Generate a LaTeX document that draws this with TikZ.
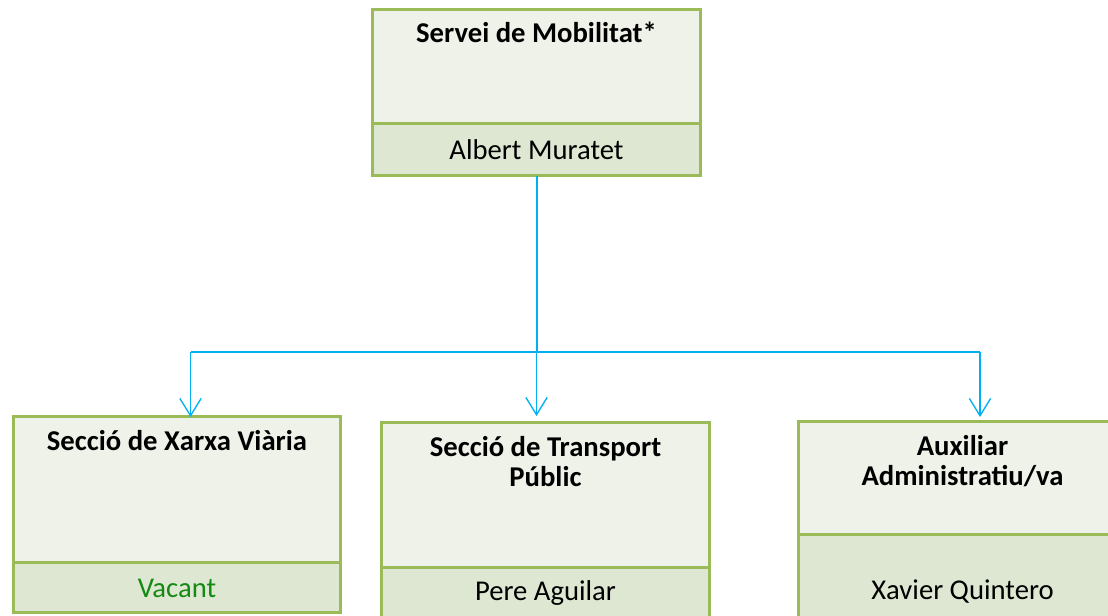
\documentclass[tikz,border=0pt]{standalone}
\usepackage{fontspec}
\setmainfont{Carlito}
\usetikzlibrary{arrows.meta, positioning}
\definecolor{orgborder}{HTML}{9BBB59}
\definecolor{orghead}{HTML}{EFF2E9}
\definecolor{orgband}{HTML}{DEE7D1}
\definecolor{orgline}{HTML}{00B0F0}
\definecolor{orgvacant}{HTML}{138A13}

\begin{document}
\begin{tikzpicture}[x=0.75pt, y=-0.75pt,
  head/.style={rectangle, draw=orgborder, fill=orghead, line width=2.25pt, minimum width=245.5pt, outer sep=0pt, anchor=north},
  band/.style={rectangle, draw=orgborder, fill=orgband, line width=2.25pt, minimum width=245.5pt, outer sep=0pt, inner sep=0pt, font=\fontsize{21.5}{25}\selectfont},
  title/.style={anchor=base, align=center, inner sep=0pt, font=\bfseries\fontsize{21.5}{22.5}\selectfont},
  link/.style={orgline, line width=1.5pt},
  drop/.style={orgline, line width=1pt, -{Straight Barb[length=13pt, width=16pt]}},
]
\clip (0,0) rectangle (1108,616);
\node[head, minimum height=85.5pt] (bossHead) at (536.5,10) {};
\node[band, minimum height=39pt, below=0pt of bossHead] (bossName) {Albert Muratet};
\node[title] (bossTitle) at (536.5,43) {Servei de Mobilitat*};

\node[head, minimum height=109.5pt] (xarxaHead) at (177,417) {};
\node[band, minimum height=37.5pt, below=0pt of xarxaHead, text=orgvacant] (xarxaName) {Vacant};
\node[title] (xarxaTitle) at (177,451) {Secció de Xarxa Viària};

\node[head, minimum height=108.75pt] (transHead) at (545.5,423) {};
\node[band, minimum height=37.5pt, below=0pt of transHead] (transName) {Pere Aguilar};
\node[title] (transTitle) at (545.5,487) {Secció de Transport\\Públic};

\node[head, minimum height=84.75pt] (auxHead) at (962.5,422) {};
\node[band, minimum height=85.5pt, below=0pt of auxHead] (auxName) {Xavier Quintero};
\node[title] (auxTitle) at (962.5,486) {Auxiliar\\Administratiu/va};

\coordinate (busL) at (190.5,352);
\coordinate (busR) at (980,352);
\coordinate (busM) at (bossName.south |- busL);
\draw[link] (bossName.south) -- (busM);
\draw[link] (busL) -- (busR);
\draw[drop] (busL) -- (busL |- xarxaHead.north);
\draw[drop, shorten >=5.25pt] (busM) -- (busM |- transHead.north);
\draw[drop, shorten >=3.75pt] (busR) -- (busR |- auxHead.north);
\end{tikzpicture}
\end{document}
